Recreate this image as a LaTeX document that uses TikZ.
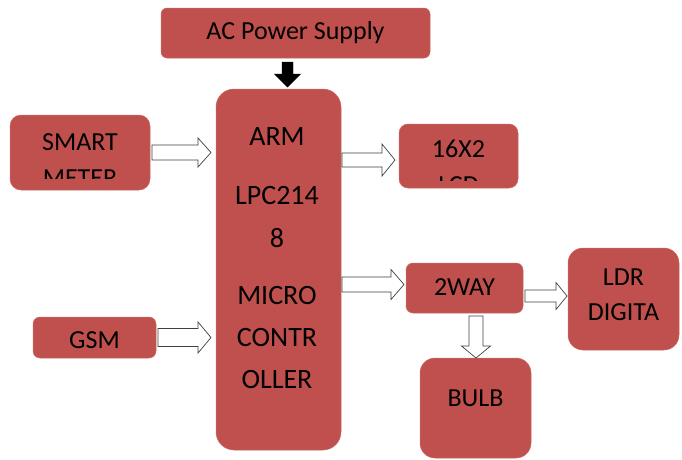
\documentclass[tikz,border=0pt]{standalone}
\usepackage{fontspec}
\setmainfont{Carlito}
\definecolor{boxred}{HTML}{C0504D}
% right-pointing block arrow: x1, x2 (tip), y, shaft half width, head half width, head length
\newcommand{\rarrowpoly}[7][]{%
  \draw[#1] (#2,#4-#5) -- (#3-#7,#4-#5) -- (#3-#7,#4-#6) -- (#3,#4)
    -- (#3-#7,#4+#6) -- (#3-#7,#4+#5) -- (#2,#4+#5) -- cycle;}
% down-pointing block arrow: y1, y2 (tip), x, shaft half width, head half width, head length
\newcommand{\darrowpoly}[7][]{%
  \draw[#1] (#4-#5,#2) -- (#4-#5,#3-#7) -- (#4-#6,#3-#7) -- (#4,#3)
    -- (#4+#6,#3-#7) -- (#4+#5,#3-#7) -- (#4+#5,#2) -- cycle;}
\begin{document}
\begin{tikzpicture}[x=1pt,y=-1pt,
  blk/.style={draw=boxred!85!white, fill=boxred, line width=0.5pt, inner sep=0pt},
  txt/.style={font=\fontsize{26}{26}\selectfont, anchor=base, inner sep=0pt, text=black},
  mctxt/.style={font=\fontsize{28}{28}\selectfont, anchor=base, inner sep=0pt, text=black},
  hollow/.style={draw=black!75, fill=white, line width=0.7pt, line join=miter},
  solid/.style={draw=black, fill=black, line width=0.4pt}]
\useasboundingbox[fill=white] (0,0) rectangle (682,459);

% boxes
\node[blk, rounded corners=6pt, minimum width=269pt, minimum height=50pt] (ac) at (295.5,33) {};
\node[blk, rounded corners=18pt, minimum width=125pt, minimum height=361pt] (mc) at (278.5,269.5) {};
\node[blk, rounded corners=11pt, minimum width=140pt, minimum height=75pt] (sm) at (80,152.5) {};
\node[blk, rounded corners=9pt, minimum width=119pt, minimum height=64pt] (lcd) at (458.5,156) {};
\node[blk, rounded corners=7pt, minimum width=117pt, minimum height=50pt] (way) at (464.5,288) {};
\node[blk, rounded corners=15pt, minimum width=111pt, minimum height=102pt] (ldr) at (623.5,299) {};
\node[blk, rounded corners=15pt, minimum width=111pt, minimum height=100pt] (bulb) at (475.5,408) {};
\node[blk, rounded corners=7pt, minimum width=123pt, minimum height=41pt] (gsm) at (94.5,337.5) {};

% texts
\node[txt] (tac) at (295.5,39) {AC Power Supply};
\node[mctxt] (t1) at (277,145) {ARM};
\node[mctxt] (t2) at (277,204) {LPC214};
\node[mctxt] (t3) at (277,247) {8};
\node[mctxt] (t4) at (277,304) {MICRO};
\node[mctxt] (t5) at (277,346) {CONTR};
\node[mctxt] (t6) at (277,388) {OLLER};
\node[txt] (tsm1) at (80,150) {SMART};
\begin{scope}
  \clip (10,115) rectangle (150,178);
  \node[txt] (tsm2) at (80,186) {METER};
\end{scope}
\node[txt] (tlcd1) at (458.5,157) {16X2};
\begin{scope}
  \clip (399,124) rectangle (518,180);
  \node[txt] (tlcd2) at (458.5,193) {LCD};
\end{scope}
\node[txt] (tway) at (464.5,295) {2WAY};
\node[txt] (tldr1) at (623.5,285) {LDR};
\node[txt] (tldr2) at (623.5,320) {DIGITA};
\node[txt] (tbulb) at (475.5,406) {BULB};
\node[txt] (tgsm) at (94.5,348) {GSM};

% arrows
\darrowpoly[solid]{62}{87}{287.5}{5.5}{13}{13}
\rarrowpoly[hollow]{152}{211}{152.5}{7.5}{14.5}{13}
\rarrowpoly[hollow]{158}{211}{337.5}{9}{15.5}{13}
\rarrowpoly[hollow]{342}{395}{160}{7}{16}{13}
\rarrowpoly[hollow]{342}{404}{284.5}{7.5}{15}{13}
\rarrowpoly[hollow]{525}{567}{296}{6}{13.5}{11}
\darrowpoly[hollow]{316}{358}{476}{7}{14.5}{12}
\end{tikzpicture}
\end{document}
